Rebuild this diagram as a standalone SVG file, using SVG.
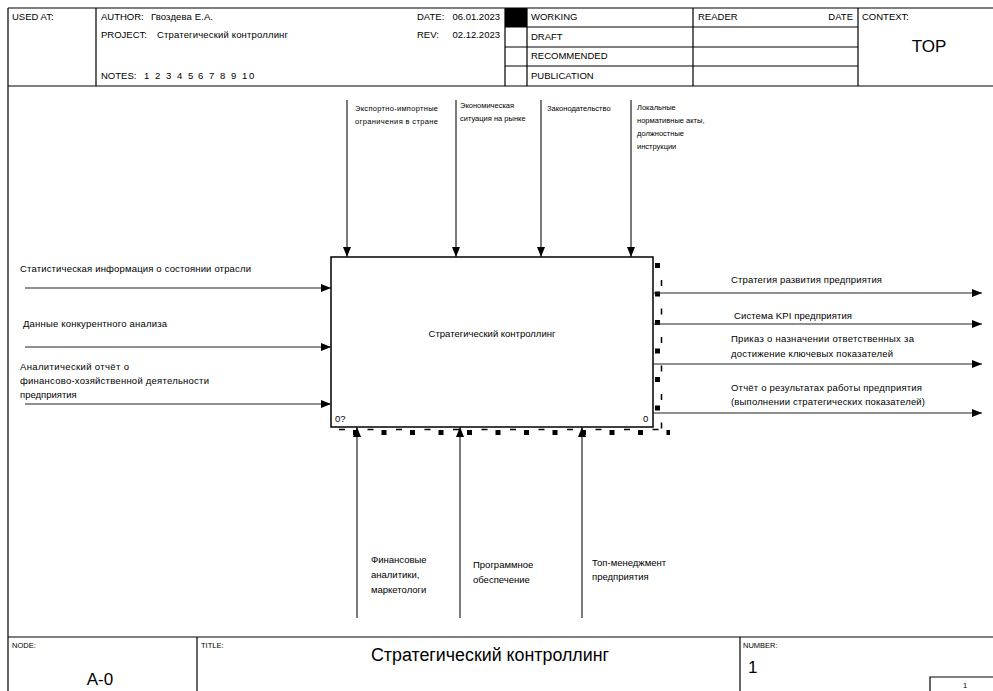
<svg xmlns="http://www.w3.org/2000/svg" width="993" height="691" viewBox="0 0 993 691">
<style>
text{font-family:"Liberation Sans",Arial,sans-serif;fill:#000}
.h{font-size:9.5px}
.s{font-size:7.5px}
.m{font-size:9.5px}
.big{font-size:17px}
.fr{stroke:#000;stroke-width:1.2;fill:none}
.ar{stroke:#222;stroke-width:1.2;fill:none}
</style>
<defs>
<marker id="ah" viewBox="0 0 10 10" refX="10" refY="5" markerWidth="10" markerHeight="10" markerUnits="userSpaceOnUse" orient="auto">
<path d="M0,1 L10,5 L0,9 Z" fill="#000"/>
</marker>
</defs>
<rect width="993" height="691" fill="#fff"/>
<g id="frame">
<path class="fr" d="M8,8 H993 M8,8 V691 M8,86 H993 M96,8 V86 M505,8 V86 M527,8 V86 M693,8 V86 M858,8 V86 M505,27 H858 M505,47 H858 M505,66 H858 M8,637 H993 M197,637 V691 M740,637 V691 M930,691 V677 H993"/>
<rect x="505" y="8" width="22" height="19" fill="#000"/>
<text class="h" x="12" y="20">USED AT:</text>
<text class="h" x="101" y="20">AUTHOR:</text>
<text class="h" x="151" y="20" textLength="62" lengthAdjust="spacing">Гвоздева Е.А.</text>
<text class="h" x="101" y="38">PROJECT:</text>
<text class="h" x="157" y="38" textLength="131" lengthAdjust="spacing">Стратегический контроллинг</text>
<text class="h" x="101" y="79">NOTES:</text>
<text class="h" x="144 155 166 177 188 198 209 220 231 242" y="79">1234567891</text>
<text class="h" x="249" y="79">0</text>
<text class="h" x="417" y="20">DATE:</text>
<text class="h" x="500" y="20" text-anchor="end">06.01.2023</text>
<text class="h" x="417" y="38">REV:</text>
<text class="h" x="500" y="38" text-anchor="end">02.12.2023</text>
<text class="h" x="531" y="20">WORKING</text>
<text class="h" x="531" y="40">DRAFT</text>
<text class="h" x="531" y="59">RECOMMENDED</text>
<text class="h" x="531" y="79">PUBLICATION</text>
<text class="h" x="698" y="20">READER</text>
<text class="h" x="853" y="20" text-anchor="end">DATE</text>
<text class="h" x="862" y="20">CONTEXT:</text>
<text class="big" x="929" y="52" text-anchor="middle">TOP</text>
<text class="s" x="12" y="648">NODE:</text>
<text class="s" x="201" y="648">TITLE:</text>
<text class="s" x="743" y="648">NUMBER:</text>
<text class="big" x="100" y="685" text-anchor="middle">A-0</text>
<text class="big" x="371" y="661" textLength="238" lengthAdjust="spacingAndGlyphs" style="font-size:18px">Стратегический контроллинг</text>
<text class="big" x="748" y="673">1</text>
<text class="s" x="965" y="688" text-anchor="middle">1</text>
</g>
<g id="node-A0">
<rect x="331" y="257" width="322" height="170" fill="#fff" stroke="#000" stroke-width="1.5"/>
<path d="M657.5,263 V430" stroke="#000" stroke-width="5" stroke-dasharray="5 23.5"/>
<path d="M661.5,280 V430" stroke="#000" stroke-width="1.5" stroke-dasharray="6 22.5"/>
<path d="M353,432.5 H670" stroke="#000" stroke-width="5" stroke-dasharray="5 23.5"/>
<path d="M339,429.5 H670" stroke="#000" stroke-width="1.5" stroke-dasharray="6 22.5"/>
<text class="m" x="492" y="337" text-anchor="middle">Стратегический контроллинг</text>
<text class="m" x="335" y="422">0?</text>
<text class="m" x="643" y="422">0</text>
</g>
<g id="connectors">
<path class="ar" d="M347,100 V257" marker-end="url(#ah)"/>
<path class="ar" d="M456,100 V257" marker-end="url(#ah)"/>
<path class="ar" d="M541,100 V257" marker-end="url(#ah)"/>
<path class="ar" d="M631,100 V257" marker-end="url(#ah)"/>
<path class="ar" d="M25,288 H331" marker-end="url(#ah)"/>
<path class="ar" d="M25,347 H331" marker-end="url(#ah)"/>
<path class="ar" d="M25,404 H331" marker-end="url(#ah)"/>
<path class="ar" d="M653,293 H982" marker-end="url(#ah)"/>
<path class="ar" d="M653,324 H982" marker-end="url(#ah)"/>
<path class="ar" d="M653,364 H982" marker-end="url(#ah)"/>
<path class="ar" d="M653,413 H982" marker-end="url(#ah)"/>
<path class="ar" d="M357,618 V427" marker-end="url(#ah)"/>
<path class="ar" d="M460,618 V427" marker-end="url(#ah)"/>
<path class="ar" d="M582,618 V427" marker-end="url(#ah)"/>
<text class="s" x="355" y="111" textLength="83" lengthAdjust="spacing">Экспортно-импортные</text>
<text class="s" x="355" y="124" textLength="83" lengthAdjust="spacing">ограничения в стране</text>
<text class="s" x="460" y="108">Экономическая</text>
<text class="s" x="460" y="121">ситуация на рынке</text>
<text class="s" x="547" y="111">Законодательство</text>
<text class="s" x="637" y="110">Локальные</text>
<text class="s" x="637" y="123">нормативные акты,</text>
<text class="s" x="637" y="136">должностные</text>
<text class="s" x="637" y="149">инструкции</text>
<text class="m" x="20" y="272" textLength="231" lengthAdjust="spacing">Статистическая информация о состоянии отрасли</text>
<text class="m" x="23" y="327" textLength="144" lengthAdjust="spacing">Данные конкурентного анализа</text>
<text class="m" x="20" y="370" textLength="109" lengthAdjust="spacing">Аналитический отчёт о</text>
<text class="m" x="20" y="384" textLength="189" lengthAdjust="spacing">финансово-хозяйственной деятельности</text>
<text class="m" x="20" y="398">предприятия</text>
<text class="m" x="731" y="283" textLength="151" lengthAdjust="spacing">Стратегия развития предприятия</text>
<text class="m" x="734" y="319" textLength="118" lengthAdjust="spacing">Система KPI предприятия</text>
<text class="m" x="731" y="342" textLength="183" lengthAdjust="spacing">Приказ о назначении ответственных за</text>
<text class="m" x="731" y="357" textLength="162" lengthAdjust="spacing">достижение ключевых показателей</text>
<text class="m" x="731" y="391" textLength="191" lengthAdjust="spacing">Отчёт о результатах работы предприятия</text>
<text class="m" x="731" y="405" textLength="194" lengthAdjust="spacing">(выполнении стратегических показателей)</text>
<text class="m" x="371" y="563">Финансовые</text>
<text class="m" x="371" y="578">аналитики,</text>
<text class="m" x="371" y="593">маркетологи</text>
<text class="m" x="473" y="568">Программное</text>
<text class="m" x="473" y="583">обеспечение</text>
<text class="m" x="592" y="566">Топ-менеджмент</text>
<text class="m" x="592" y="580">предприятия</text>
</g>
</svg>
